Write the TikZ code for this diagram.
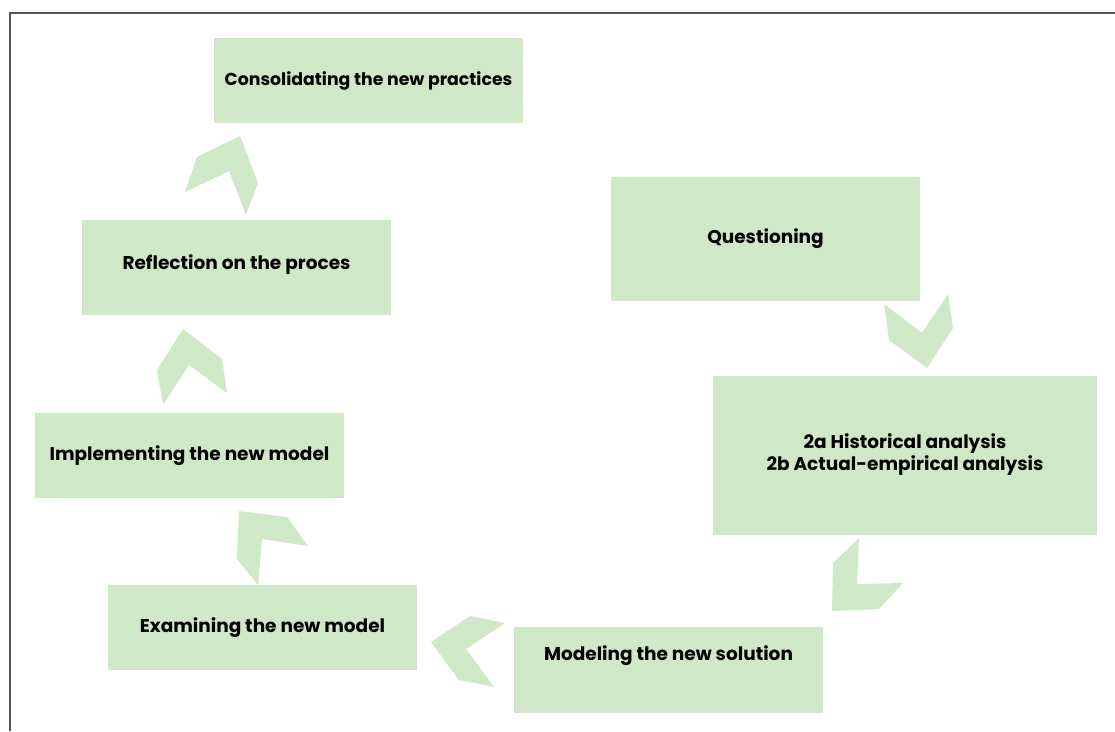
\documentclass[tikz,border=0pt]{standalone}
\usepackage{fontspec}
\setmainfont{Poppins}
\definecolor{stepgreen}{RGB}{207,232,199}
\definecolor{framegray}{RGB}{85,85,85}
\begin{document}
\begin{tikzpicture}[x=1pt, y=-1pt,
                    box/.style={fill=stepgreen, inner sep=0pt, minimum width=309pt, minimum height=85pt,
                                font=\bfseries\fontsize{18.5}{22}\selectfont},
                    lift/.style={text depth=#1},
                    chevron/.style={fill=stepgreen}]
    \useasboundingbox (0,0) rectangle (1115,731);
    \draw[framegray, line width=1.3pt] (10,731) -- (10,13) -- (1115,13);
    % the steps
    \node[box, font=\bfseries\fontsize{17.3}{22}\selectfont] (consolidating) at (368.5,80.5) {Consolidating the new practices};
    \node[box, minimum height=95pt, lift=11pt] (reflection) at (236.5,267.5) {Reflection on the proces};
    \node[box] (implementing) at (189.5,455.5) {Implementing the new model};
    \node[box] (examining) at (262.5,627.5) {Examining the new model};
    \node[box, minimum height=86pt, lift=34pt] (modeling) at (668.5,670) {Modeling the new solution};
    \node[box, minimum width=384pt, minimum height=159pt] (analysis) at (905,455.5)
        {\raisebox{10pt}{\begin{tabular}{@{}c@{}}2a Historical analysis\\2b Actual-empirical analysis\end{tabular}}};
    \node[box, minimum height=124pt] (questioning) at (765.5,239) {Questioning};
    % the chevrons between them
    \fill[chevron] (884,304) -- (922,333) -- (948,294) -- (953,328) -- (927,368) -- (889,340) -- cycle;
    \fill[chevron] (859,538) -- (833,563) -- (832,611) -- (879,609) -- (903,583) -- (857,584) -- cycle;
    \fill[chevron] (470,616) -- (505,623) -- (466,649) -- (494,687) -- (459,680) -- (431,642) -- cycle;
    \fill[chevron] (239,511) -- (287,517) -- (308,546) -- (262,539) -- (258,585) -- (237,559) -- cycle;
    \fill[chevron] (183,329) -- (222,359) -- (227,393) -- (189,365) -- (163,405) -- (157,370) -- cycle;
    \fill[chevron] (185,192) -- (197,157) -- (240,136) -- (258,183) -- (246,215) -- (229,171) -- cycle;
\end{tikzpicture}
\end{document}
